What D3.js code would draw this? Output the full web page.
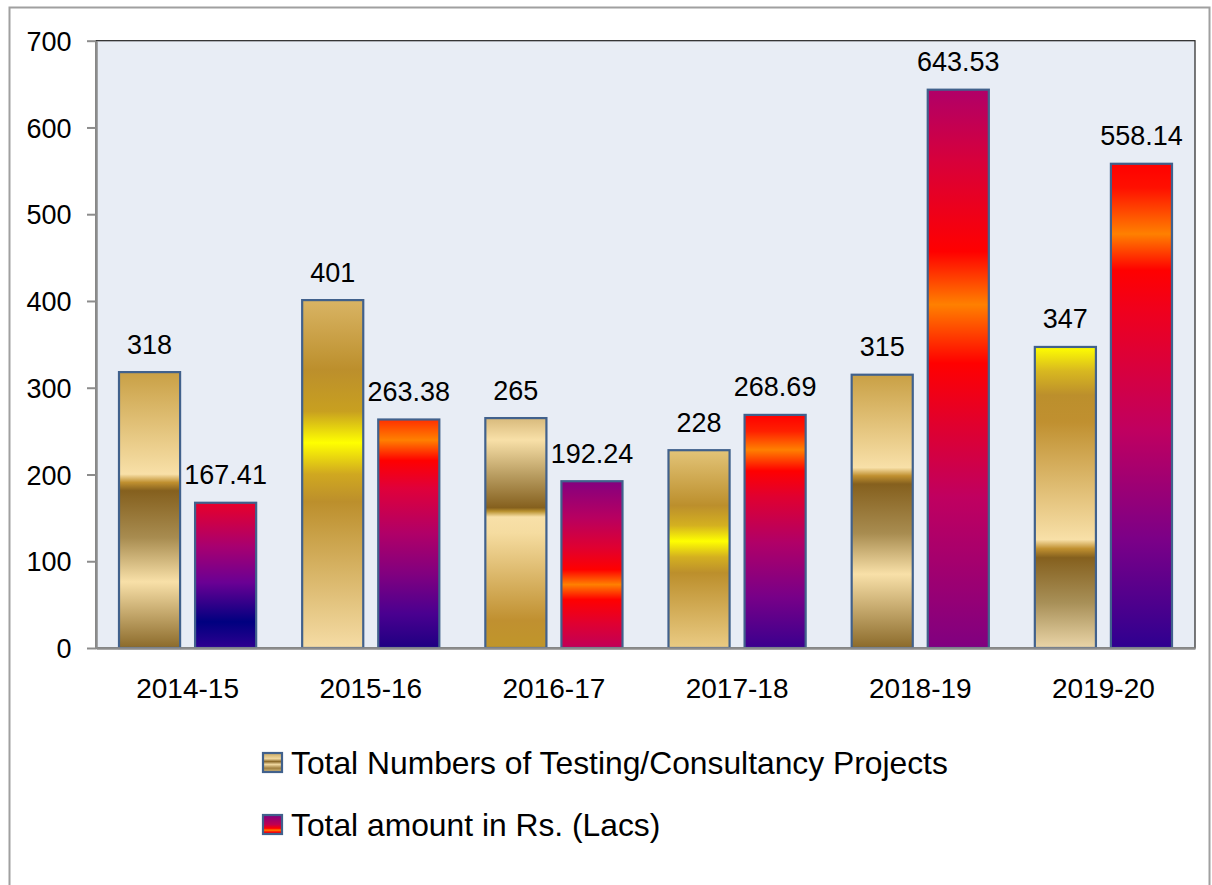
<!DOCTYPE html>
<html>
<head>
<meta charset="utf-8">
<script src="https://cdn.jsdelivr.net/npm/d3@7"></script>
<style>
  body { margin: 0; background: #fff; }
  svg text { font-family: "Liberation Sans", Arial, sans-serif; fill: #000; }
</style>
</head>
<body>
<div id="chart"></div>
<script>
// Chart data
const years = ["2014-15", "2015-16", "2016-17", "2017-18", "2018-19", "2019-20"];
const projects = [318, 401, 265, 228, 315, 347];
const amounts = [167.41, 263.38, 192.24, 268.69, 643.53, 558.14];
const seriesNames = ["Total Numbers of Testing/Consultancy Projects", "Total amount in Rs. (Lacs)"];
const yTicks = [0, 100, 200, 300, 400, 500, 600, 700];

// Gradient stops for each bar (Excel-like "gold" and "fire" fills), top -> bottom
const goldFills = [
  [[0, "#C9A045"], [0.37, "#F8E0A8"], [0.4, "#C09030"], [0.43, "#85601E"], [0.6, "#A88C50"], [0.76, "#F8E0A8"], [1, "#8B6A2A"]],
  [[0, "#D9B464"], [0.2, "#BC8F2C"], [0.32, "#C8A020"], [0.41, "#FFFF00"], [0.5, "#D0A820"], [0.58, "#BC8F2C"], [1, "#F5DCA5"]],
  [[0, "#D8BA7C"], [0.095, "#F8E0A8"], [0.25, "#B89C60"], [0.39, "#85601E"], [0.405, "#B8902E"], [0.43, "#F8E0A8"], [0.5, "#F5DCA0"], [0.88, "#C09030"], [1, "#C0962A"]],
  [[0, "#E3C478"], [0.28, "#BC8F2C"], [0.38, "#D4B020"], [0.46, "#FFFF00"], [0.54, "#D4B020"], [0.62, "#BC8F2C"], [1, "#EACB84"]],
  [[0, "#C9A045"], [0.34, "#F8E0A8"], [0.37, "#C09030"], [0.4, "#85601E"], [0.58, "#A88C50"], [0.73, "#F8E0A8"], [1, "#8B6A2A"]],
  [[0, "#FFFF00"], [0.08, "#D8B820"], [0.16, "#BC8F2C"], [0.25, "#C09030"], [0.64, "#F8E0A8"], [0.67, "#C09030"], [0.7, "#85601E"], [0.85, "#A89058"], [1, "#EAD5A8"]]
];
const fireFills = [
  [[0, "#E8002A"], [0.3, "#A80070"], [0.55, "#6A0094"], [0.82, "#000080"], [1, "#2E0090"]],
  [[0, "#FF3000"], [0.09, "#FF8000"], [0.18, "#FF0000"], [0.3, "#E0003A"], [0.5, "#B00068"], [0.68, "#800080"], [0.85, "#4A0090"], [1, "#1E0082"]],
  [[0, "#840080"], [0.22, "#B80060"], [0.4, "#E00030"], [0.53, "#FF0000"], [0.62, "#FF8000"], [0.71, "#FF0000"], [0.85, "#E00030"], [1, "#C00058"]],
  [[0, "#FF0000"], [0.07, "#FF2000"], [0.15, "#FF8000"], [0.24, "#FF0000"], [0.35, "#E00030"], [0.55, "#B00068"], [0.78, "#780088"], [1, "#3A008E"]],
  [[0, "#B00068"], [0.13, "#D8003A"], [0.29, "#FF0000"], [0.385, "#FF8000"], [0.49, "#FF0000"], [0.6, "#E0002E"], [0.73, "#C00060"], [1, "#800080"]],
  [[0, "#FF0000"], [0.05, "#FF1000"], [0.145, "#FF8000"], [0.22, "#FF0000"], [0.3, "#F0001C"], [0.55, "#C00060"], [0.78, "#7A0088"], [1, "#2E0090"]]
];
const legendFills = [
  [[0, "#C8A860"], [0.3, "#F0D8A0"], [0.45, "#8B6A2A"], [0.6, "#F0D8A0"], [0.8, "#A08040"], [1, "#D8C080"]],
  [[0, "#800080"], [0.5, "#C00050"], [0.7, "#FF0000"], [0.8, "#FF8000"], [0.9, "#FF0000"], [1, "#E00030"]]
];

const width = 1212;
const height = 885;
const plot = { left: 96, right: 1195, top: 40.7, bottom: 648 };
const barStroke = "#41618C";

const svg = d3
  .select("#chart")
  .append("svg")
  .attr("width", width)
  .attr("height", height);

const defs = svg.append("defs");

function addGradient(id, stops) {
  const g = defs
    .append("linearGradient")
    .attr("id", id)
    .attr("x1", 0).attr("y1", 0)
    .attr("x2", 0).attr("y2", 1);
  stops.forEach(([o, c]) => {
    g.append("stop").attr("offset", o).attr("stop-color", c);
  });
}
goldFills.forEach((s, i) => addGradient("gold" + i, s));
fireFills.forEach((s, i) => addGradient("fire" + i, s));
legendFills.forEach((s, i) => addGradient("leg" + i, s));

// Outer chart border
svg
  .append("rect")
  .attr("x", 9.5)
  .attr("y", 7.5)
  .attr("width", 1200)
  .attr("height", 900)
  .attr("fill", "#fff")
  .attr("stroke", "#A0A0A0")
  .attr("stroke-width", 2);

// Plot area
svg
  .append("rect")
  .attr("x", plot.left)
  .attr("y", plot.top)
  .attr("width", plot.right - plot.left)
  .attr("height", plot.bottom - plot.top)
  .attr("fill", "#E8EDF5")
  .attr("stroke", "#222")
  .attr("stroke-width", 1.2);

// Scales
const x0 = d3.scaleBand().domain(years).range([plot.left, plot.right]);
const x1 = d3
  .scaleBand()
  .domain([0, 1])
  .range([23, x0.bandwidth() - 23])
  .paddingInner(0.197);
const y = d3.scaleLinear().domain([0, 700]).range([plot.bottom, plot.top]);

// Y axis
const yAxis = svg
  .append("g")
  .attr("transform", `translate(${plot.left},0)`)
  .call(d3.axisLeft(y).tickValues(yTicks).tickSize(9).tickPadding(15.5).tickSizeOuter(0));
yAxis.select(".domain").attr("stroke", "#8C8C8C").attr("stroke-width", 2.5);
yAxis.selectAll(".tick line").attr("stroke", "#8C8C8C").attr("stroke-width", 2);
yAxis.selectAll(".tick text").attr("font-size", "27px").attr("dy", "0.36em");

// Bars
const series = [projects, amounts];
const fillIds = ["gold", "fire"];
const groups = svg
  .selectAll("g.year")
  .data(years)
  .enter()
  .append("g")
  .attr("class", "year")
  .attr("transform", (d) => `translate(${x0(d)},0)`);

series.forEach((vals, s) => {
  groups
    .append("rect")
    .attr("x", x1(s))
    .attr("y", (d, i) => y(vals[i]))
    .attr("width", x1.bandwidth())
    .attr("height", (d, i) => y(0) - y(vals[i]))
    .attr("fill", (d, i) => `url(#${fillIds[s]}${i})`)
    .attr("stroke", barStroke)
    .attr("stroke-width", 2.2);

  groups
    .append("text")
    .attr("x", x1(s) + x1.bandwidth() / 2)
    .attr("y", (d, i) => y(vals[i]) - 18.5)
    .attr("text-anchor", "middle")
    .attr("font-size", "27px")
    .text((d, i) => String(vals[i]));
});

// X axis
const xAxis = svg
  .append("g")
  .attr("transform", `translate(0,${plot.bottom})`)
  .call(d3.axisBottom(x0).tickSize(0).tickPadding(30));
xAxis.select(".domain").attr("stroke", "#8C8C8C").attr("stroke-width", 2.5);
xAxis.selectAll(".tick text").attr("font-size", "28px");

// Legend
const legend = svg
  .selectAll("g.legend")
  .data(seriesNames)
  .enter()
  .append("g")
  .attr("class", "legend")
  .attr("transform", (d, i) => `translate(263,${753 + i * 62})`);

legend
  .append("rect")
  .attr("width", 19)
  .attr("height", 19)
  .attr("fill", (d, i) => `url(#leg${i})`)
  .attr("stroke", barStroke)
  .attr("stroke-width", 2.2);

legend
  .append("text")
  .attr("x", 28)
  .attr("y", 20.5)
  .attr("font-size", "31.8px")
  .text((d) => d);
</script>
</body>
</html>
